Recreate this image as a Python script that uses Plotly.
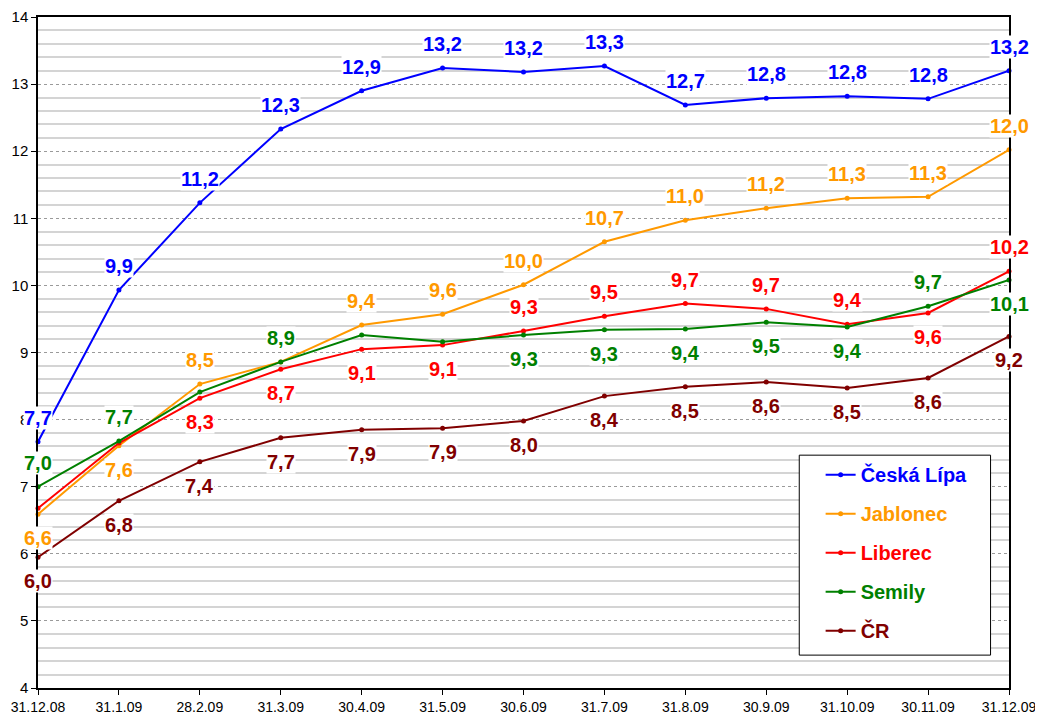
import plotly.graph_objects as go

# Data
dates = ['31.12.08', '31.1.09', '28.2.09', '31.3.09', '30.4.09', '31.5.09', '30.6.09',
         '31.7.09', '31.8.09', '30.9.09', '31.10.09', '30.11.09', '31.12.09']

ceska_lipa = [7.67, 9.93, 11.23, 12.33, 12.90, 13.24, 13.18, 13.27, 12.69, 12.79, 12.82, 12.78, 13.20]
jablonec = [6.59, 7.61, 8.53, 8.86, 9.41, 9.57, 10.01, 10.65, 10.97, 11.15, 11.30, 11.32, 12.02]
liberec = [6.68, 7.65, 8.32, 8.75, 9.05, 9.11, 9.32, 9.54, 9.73, 9.65, 9.42, 9.59, 10.21]
semily = [7.00, 7.68, 8.41, 8.86, 9.26, 9.16, 9.26, 9.34, 9.35, 9.45, 9.38, 9.69, 10.08]
cr = [5.95, 6.79, 7.37, 7.73, 7.85, 7.87, 7.98, 8.35, 8.49, 8.56, 8.47, 8.62, 9.24]

# data labels: text and placement ('a' above, 'b' below, '' none)
ceska_lipa_lbl = ['7,7', '9,9', '11,2', '12,3', '12,9', '13,2', '13,2', '13,3', '12,7', '12,8', '12,8', '12,8', '13,2']
ceska_lipa_pos = ['a'] * 13
jablonec_lbl = ['6,6', '7,6', '8,5', '', '9,4', '9,6', '10,0', '10,7', '11,0', '11,2', '11,3', '11,3', '12,0']
jablonec_pos = ['b', 'b', 'a', '', 'a', 'a', 'a', 'a', 'a', 'a', 'a', 'a', 'a']
liberec_lbl = ['', '', '8,3', '8,7', '9,1', '9,1', '9,3', '9,5', '9,7', '9,7', '9,4', '9,6', '10,2']
liberec_pos = ['', '', 'b', 'b', 'b', 'b', 'a', 'a', 'a', 'a', 'a', 'b', 'a']
semily_lbl = ['7,0', '7,7', '', '8,9', '', '', '9,3', '9,3', '9,4', '9,5', '9,4', '9,7', '10,1']
semily_pos = ['a', 'a', '', 'a', '', '', 'b', 'b', 'b', 'b', 'b', 'a', 'b']
cr_lbl = ['6,0', '6,8', '7,4', '7,7', '7,9', '7,9', '8,0', '8,4', '8,5', '8,6', '8,5', '8,6', '9,2']
cr_pos = ['b'] * 13

series = [
    ('Česká Lípa', ceska_lipa, ceska_lipa_lbl, ceska_lipa_pos, '#0000FF'),
    ('Jablonec', jablonec, jablonec_lbl, jablonec_pos, '#FF9900'),
    ('Liberec', liberec, liberec_lbl, liberec_pos, '#FF0000'),
    ('Semily', semily, semily_lbl, semily_pos, '#008000'),
    ('ČR', cr, cr_lbl, cr_pos, '#800000'),
]

FONT = 'Liberation Sans, Arial, sans-serif'

fig = go.Figure()
annotations = []
for name, vals, lbls, pos, color in series:
    fig.add_trace(go.Scatter(
        x=dates, y=vals, mode='lines+markers',
        name='<b><span style="color:%s">%s</span></b>' % (color, name),
        line=dict(color=color, width=2),
        marker=dict(color=color, size=5),
        legendgroup=name, cliponaxis=False,
    ))
    for d, v, t, p in zip(dates, vals, lbls, pos):
        if not t:
            continue
        annotations.append(dict(
            x=d, y=v, xref='x', yref='y', text='<b>%s</b>' % t, showarrow=False,
            yshift=24 if p == 'a' else -24, bgcolor='white', borderpad=0,
            font=dict(family=FONT, size=20, color=color),
        ))

# legend frame
fig.add_shape(type='rect', xref='paper', yref='paper', x0=0.784, x1=0.981, y0=0.049, y1=0.347,
              line=dict(color='black', width=1), fillcolor='white', layer='above')

# page body has an 8px margin, so the figure is 8px smaller and margins shifted
fig.update_layout(
    width=1035, height=712,
    margin=dict(l=30, r=34, t=9, b=32),
    paper_bgcolor='white', plot_bgcolor='white',
    font=dict(family=FONT, size=14, color='black'),
    annotations=annotations,
    showlegend=True,
    legend=dict(x=0.806, y=0.347, xanchor='left', yanchor='top', bgcolor='rgba(0,0,0,0)',
                font=dict(family=FONT, size=20), tracegroupgap=10, itemwidth=30),
)

fig.update_xaxes(
    type='category', range=[0, len(dates) - 1], automargin=False,
    showline=True, linecolor='black', linewidth=1.5, mirror=True,
    ticks='outside', ticklen=5, tickcolor='black', showgrid=False,
    tickfont=dict(size=14),
)
fig.update_yaxes(
    range=[4, 14], dtick=1, automargin=False,
    showline=True, linecolor='black', linewidth=1.5, mirror=True,
    ticks='outside', ticklen=5, tickcolor='black',
    showgrid=True, gridcolor='#9a9a9a', gridwidth=1, griddash='dot',
    minor=dict(dtick=0.2, showgrid=True, gridcolor='#d4d4d4', gridwidth=1.5, griddash='solid'),
    tickfont=dict(size=15), zeroline=False,
)

fig.write_html('out.html')
